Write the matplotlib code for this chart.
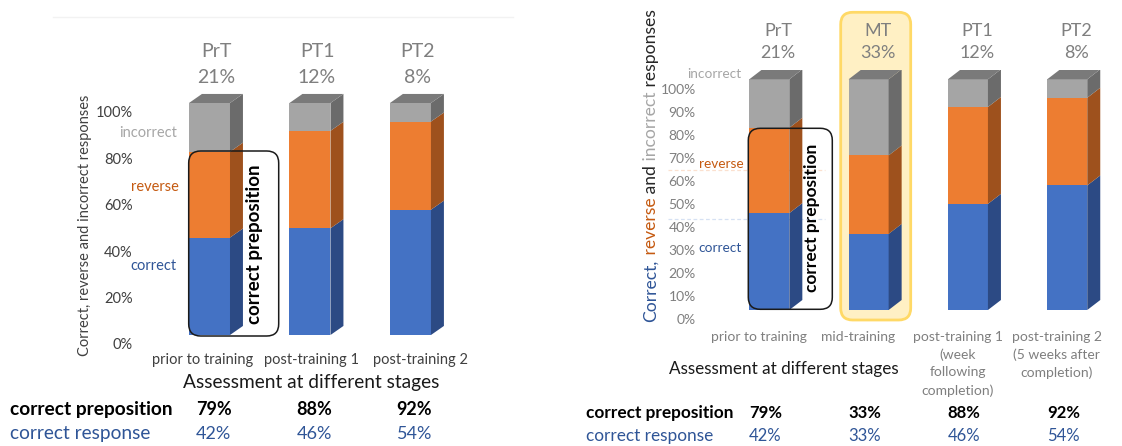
import matplotlib
matplotlib.use("Agg")
import numpy as np
import matplotlib.pyplot as plt
from matplotlib.patches import Polygon, FancyBboxPatch
from matplotlib.transforms import ScaledTranslation, blended_transform_factory

plt.rcParams["font.family"] = ["Lato", "DejaVu Sans"]

# ---------------------------------------------------------------- data
stage_short = ["PrT", "MT", "PT1", "PT2"]
stage_names = ["prior to training",
               "mid-training",
               "post-training 1\n(week\nfollowing\ncompletion)",
               "post-training 2\n(5 weeks after\ncompletion)"]
stage_names_short = ["prior to training", "post-training 1", "post-training 2"]
correct = [42, 33, 46, 54]
reverse = [37, 34, 42, 38]
incorrect = [21, 33, 12, 8]
correct_preposition = [79, 33, 88, 92]
correct_response = [42, 33, 46, 54]
left_stages = [0, 2, 3]          # stages shown in the first panel
left_ticks = list(range(0, 101, 20))
right_ticks = list(range(0, 101, 10))

# ---------------------------------------------------------------- style
FRONT = {"correct": "#4472C4", "reverse": "#ED7D31", "incorrect": "#A5A5A5"}
SIDE = {"correct": "#2C4A84", "reverse": "#9E511D", "incorrect": "#6B6B6B"}
TOP = "#7A7A7A"
BLUE_T, ORANGE_T, GRAY_T = "#2F5597", "#C55A11", "#A6A6A6"
DARK, MID = "#404040", "#7F7F7F"

W, H = 1122, 446
fig = plt.figure(figsize=(W / 100, H / 100), dpi=100)


def overlay(z):
    a = fig.add_axes([0, 0, 1, 1], zorder=z)
    a.set_xlim(0, W)
    a.set_ylim(H, 0)
    a.axis("off")
    a.patch.set_alpha(0)
    return a


back = overlay(0)
front = overlay(5)


def px_axes(x0, y0, x1, y1):
    a = fig.add_axes([x0 / W, 1 - y1 / H, (x1 - x0) / W, (y1 - y0) / H], zorder=2)
    a.patch.set_alpha(0)
    for s in a.spines.values():
        s.set_visible(False)
    return a


def draw_3d_stack(ax, xs, segments, width, dx, dy):
    xs = np.asarray(xs, float)
    bottoms = np.zeros(len(xs))
    for name, vals in segments:
        vals = np.asarray(vals, float)
        ax.bar(xs, vals, width, bottom=bottoms, color=FRONT[name], linewidth=0, zorder=2)
        for x, b, v in zip(xs, bottoms, vals):
            xr = x + width / 2
            ax.add_patch(Polygon([(xr, b), (xr + dx, b + dy), (xr + dx, b + v + dy), (xr, b + v)],
                                 closed=True, fc=SIDE[name], ec="none", zorder=2))
        bottoms = bottoms + vals
    for x, t in zip(xs, bottoms):
        xl, xr = x - width / 2, x + width / 2
        ax.add_patch(Polygon([(xl, t), (xl + dx, t + dy), (xr + dx, t + dy), (xr, t)],
                             closed=True, fc=TOP, ec="none", zorder=2))


def shift_yticklabels(ax, dy_px):
    off = ScaledTranslation(0, -dy_px / 100, fig.dpi_scale_trans)
    for lab in ax.get_yticklabels():
        lab.set_transform(lab.get_transform() + off)


# ================================================================ left panel
ax1 = px_axes(150, 90, 460, 350)
ax1.set_xlim(-0.592, 2.493)
ax1.set_ylim(-6.466, 105.603)
xs1 = np.arange(len(left_stages))
w1, dx1, dy1 = 0.408, 0.129, 3.9
draw_3d_stack(ax1, xs1,
              [("correct", [correct[i] for i in left_stages]),
               ("reverse", [reverse[i] for i in left_stages]),
               ("incorrect", [incorrect[i] for i in left_stages])],
              w1, dx1, dy1)
ax1.set_yticks(left_ticks, [f"{v}%" for v in left_ticks])
ax1.tick_params(axis="y", length=0, pad=12.5, labelsize=10.5, labelcolor=DARK)
shift_yticklabels(ax1, 9)
ax1.set_xticks(xs1 + np.array([-0.07, 0.02, 0.10]), stage_names_short)
ax1.tick_params(axis="x", length=0, pad=2, labelsize=10.5, labelcolor=DARK)

for x, i in zip(xs1, left_stages):
    ax1.text(x + 0.07, 122, stage_short[i], ha="center", va="center", fontsize=14, color=MID)
    ax1.text(x + 0.07, 111.2, f"{incorrect[i]}%", ha="center", va="center", fontsize=14, color=MID)

front.plot([53, 513], [17, 17], color="#F2F2F2", lw=1)
front.text(177, 132.7, "incorrect", ha="right", va="center", fontsize=10.5, color=GRAY_T)
front.text(179, 186.7, "reverse", ha="right", va="center", fontsize=10.5, color=ORANGE_T)
front.text(177, 265.7, "correct", ha="right", va="center", fontsize=10.5, color=BLUE_T)
front.text(85, 225, "Correct, reverse and incorrect responses", rotation=90,
           ha="center", va="center", fontsize=10.5, color=DARK)
front.text(310.7, 382.7, "Assessment at different stages", ha="center", va="center",
           fontsize=13.8, color="#1A1A1A")
front.add_patch(FancyBboxPatch((188.7, 151), 90, 185, boxstyle="round,pad=0,rounding_size=12",
                               fc="none", ec="#1A1A1A", lw=1.1))
front.text(255, 244, "correct preposition", rotation=90, ha="center", va="center",
           fontsize=13.5, fontweight="bold", color="black")

tb1 = blended_transform_factory(ax1.transData, front.transData)
front.text(10, 409.3, "correct preposition", ha="left", va="center", fontsize=13.8,
           fontweight="bold", color="black")
front.text(10, 434, "correct response", ha="left", va="center", fontsize=13.8, color=BLUE_T)
for x, i in zip(xs1, left_stages):
    front.text(x + 0.04, 409.3, f"{correct_preposition[i]}%", transform=tb1, ha="center",
               va="center", fontsize=13, fontweight="bold", color="black")
    front.text(x + 0.04, 434, f"{correct_response[i]}%", transform=tb1, ha="center",
               va="center", fontsize=13, color=BLUE_T)

# ================================================================ right panel
ax2 = px_axes(700, 70, 1115, 325)
ax2.set_xlim(-0.698, 3.481)
ax2.set_ylim(-6.50, 104.03)
xs2 = np.arange(len(stage_short))
w2, dx2, dy2 = 0.403, 0.131, 4.33
draw_3d_stack(ax2, xs2, [("correct", correct), ("reverse", reverse), ("incorrect", incorrect)],
              w2, dx2, dy2)
ax2.set_yticks(right_ticks, [f"{v}%" for v in right_ticks])
ax2.tick_params(axis="y", length=0, pad=3, labelsize=10, labelcolor=MID)
shift_yticklabels(ax2, 9.3)
ax2.set_xticks(xs2 - 0.105, stage_names)
ax2.tick_params(axis="x", length=0, pad=4, labelsize=10, labelcolor=MID)
for lab in ax2.get_xticklabels():
    lab.set_multialignment("center")
    lab.set_linespacing(1.55)

for x, i in zip(xs2, range(len(stage_short))):
    ax2.text(x + 0.09, 121.1, stage_short[i], ha="center", va="center", fontsize=13, color=MID)
    ax2.text(x + 0.09, 111.3, f"{incorrect[i]}%", ha="center", va="center", fontsize=13, color=MID)

# highlight behind the mid-training column
back.add_patch(FancyBboxPatch((840.7, 12.3), 70, 307.7, boxstyle="round,pad=0,rounding_size=12",
                              fc="#FFF0C4", ec="#FFD966", lw=2))

# faint guides behind the first column
back.plot([668, 825], [170.3, 170.3], color="#FBE0CF", lw=0.9, ls=(0, (3, 2)))
back.plot([668, 825], [219.3, 219.3], color="#D6E1F3", lw=0.9, ls=(0, (3, 2)))
front.text(741.3, 74, "incorrect", ha="right", va="center", fontsize=9.8, color=GRAY_T)
front.text(743.3, 164.3, "reverse", ha="right", va="center", fontsize=9.8, color=ORANGE_T)
front.text(741.3, 248.3, "correct", ha="right", va="center", fontsize=9.8, color=BLUE_T)

# multi-coloured vertical axis title
pieces = [("Correct,", BLUE_T), (" reverse", ORANGE_T), (" and", "#262626"),
          (" incorrect", GRAY_T), (" responses", "#262626")]
prev = front.text(650.7, 321.7, pieces[0][0], rotation=90, ha="center", va="bottom",
                  fontsize=12.6, color=pieces[0][1])
for txt, col in pieces[1:]:
    prev = front.annotate(txt, xy=(0.5, 1), xycoords=prev, rotation=90, ha="center",
                          va="bottom", fontsize=12.6, color=col)

front.text(784, 369.3, "Assessment at different stages", ha="center", va="center",
           fontsize=12.3, color="#1A1A1A")
front.add_patch(FancyBboxPatch((748.3, 128.3), 84, 181, boxstyle="round,pad=0,rounding_size=12",
                               fc="none", ec="#1A1A1A", lw=1.1))
front.text(812.3, 218.3, "correct preposition", rotation=90, ha="center", va="center",
           fontsize=12.5, fontweight="bold", color="black")

tb2 = blended_transform_factory(ax2.transData, front.transData)
front.text(586, 412.7, "correct preposition", ha="left", va="center", fontsize=12.4,
           fontweight="bold", color="black")
front.text(586, 435.7, "correct response", ha="left", va="center", fontsize=12.4, color=BLUE_T)
for x, i in zip(xs2, range(len(stage_short))):
    front.text(x - 0.04, 412.7, f"{correct_preposition[i]}%", transform=tb2, ha="center",
               va="center", fontsize=12, fontweight="bold", color="black")
    front.text(x - 0.04, 435.7, f"{correct_response[i]}%", transform=tb2, ha="center",
               va="center", fontsize=12, color=BLUE_T)

fig.savefig("out.png", dpi=100, facecolor="white")
